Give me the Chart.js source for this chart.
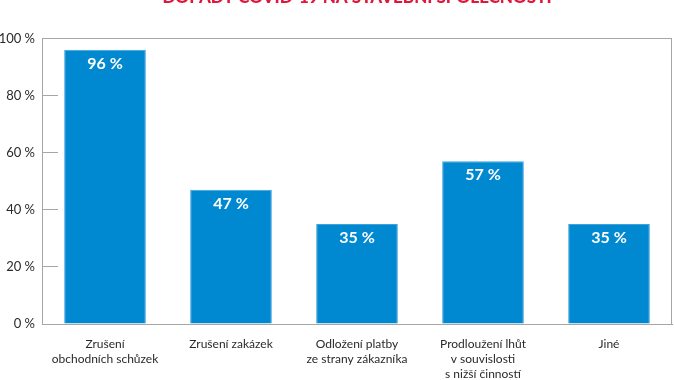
<!DOCTYPE html>
<html>
<head>
<meta charset="utf-8">
<script src="https://cdn.jsdelivr.net/npm/chart.js@4/dist/chart.umd.min.js"></script>
<style>
  html, body { margin: 0; padding: 0; background: #fff; }
  #wrap { width: 674px; height: 380px; position: relative; }
</style>
</head>
<body>
<div id="wrap"><canvas id="chart"></canvas></div>
<script>
const categories = [
  ['Zrušení', 'obchodních schůzek'],
  'Zrušení zakázek',
  ['Odložení platby', 'ze strany zákazníka'],
  ['Prodloužení lhůt', 'v souvislosti', 's nižší činností'],
  'Jiné'
];
const values = [96, 47, 35, 57, 35];
const yTicks = [0, 20, 40, 60, 80, 100];
const title = 'DOPADY COVID-19 NA STAVEBNÍ SPOLEČNOSTI';

const FONT = 'Lato, "Open Sans", sans-serif';
const BLUE = '#0088d1';
const LINE = '#a6a6a6';

// frame around the plot area
const framePlugin = {
  id: 'frame',
  afterDraw(chart) {
    const { ctx, chartArea: a } = chart;
    ctx.save();
    ctx.strokeStyle = LINE;
    ctx.lineWidth = 1;
    ctx.strokeRect(Math.round(a.left) + 0.5, Math.round(a.top) + 0.5,
      Math.round(a.right - a.left) - 1, Math.round(a.bottom - a.top));
    ctx.restore();
  }
};

// value labels inside the top of each bar
const valueLabels = {
  id: 'valueLabels',
  afterDatasetsDraw(chart) {
    const { ctx } = chart;
    const meta = chart.getDatasetMeta(0);
    ctx.save();
    ctx.fillStyle = '#fff';
    ctx.font = 'bold 16px ' + FONT;
    ctx.textAlign = 'center';
    ctx.textBaseline = 'middle';
    meta.data.forEach((bar, i) => {
      ctx.fillText(values[i] + ' %', bar.x, bar.y + 14);
    });
    ctx.restore();
  }
};

new Chart(document.getElementById('chart'), {
  type: 'bar',
  data: {
    labels: categories,
    datasets: [{
      data: values,
      backgroundColor: BLUE,
      borderColor: '#3ea2dc',
      borderWidth: 1,
      borderSkipped: 'bottom',
      categoryPercentage: 0.8,
      barPercentage: 0.81
    }]
  },
  options: {
    responsive: true,
    maintainAspectRatio: false,
    animation: false,
    layout: { padding: { left: 0, right: 2, top: 0, bottom: 0 } },
    plugins: {
      legend: { display: false },
      tooltip: { enabled: false },
      title: {
        display: true,
        fullSize: false,
        text: title,
        color: '#e0163c',
        font: { family: FONT, size: 17, weight: '900' },
        padding: { top: -13, bottom: 31 }
      }
    },
    scales: {
      x: {
        grid: { display: false, drawTicks: false },
        border: { color: LINE },
        ticks: {
          color: '#2a2a2a',
          font: { family: FONT, size: 12, lineHeight: 1.25 },
          padding: 13,
          maxRotation: 0,
          autoSkip: false
        },
        afterFit(s) { s.height = 56; }
      },
      y: {
        min: 0,
        max: 100,
        afterBuildTicks(s) { s.ticks = yTicks.map(v => ({ value: v })); },
        grid: {
          drawOnChartArea: false,
          drawTicks: true,
          tickLength: -16,
          color: LINE
        },
        border: { color: LINE },
        ticks: {
          color: '#2a2a2a',
          font: { family: FONT, size: 13 },
          padding: 23,
          callback: v => v + ' %'
        },
        afterFit(s) { s.width = 42; }
      }
    }
  },
  plugins: [framePlugin, valueLabels]
});
</script>
</body>
</html>
